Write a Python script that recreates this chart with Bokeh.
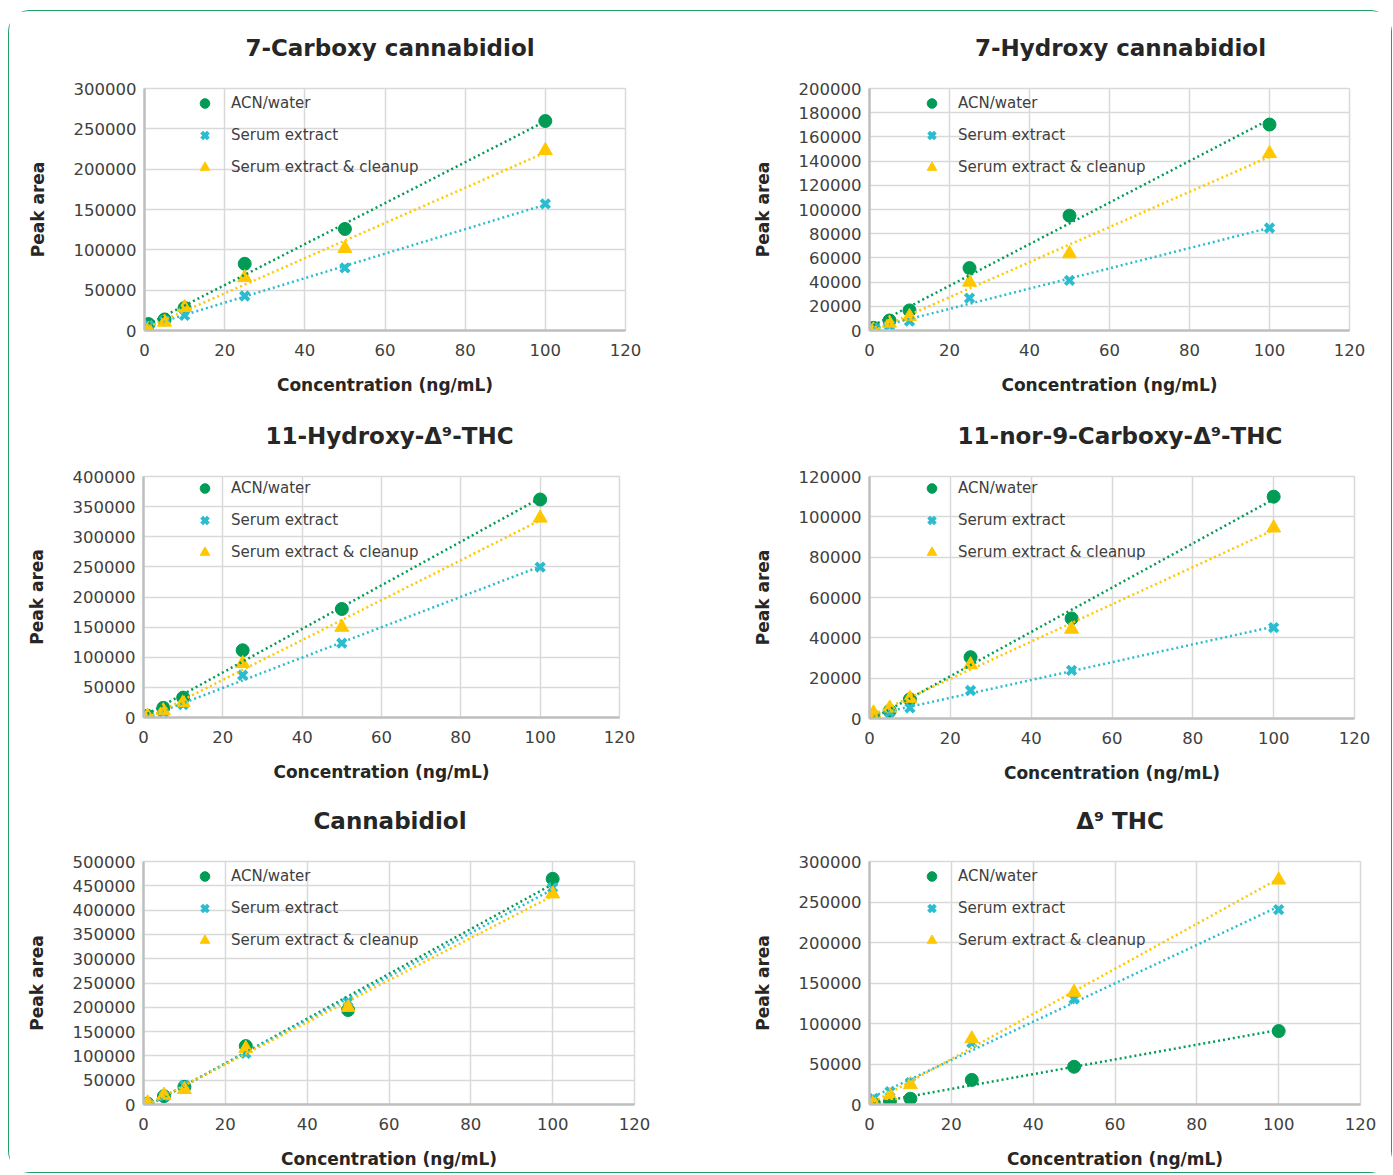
import numpy as np
from bokeh.plotting import figure
from bokeh.layouts import column, row
from bokeh.models import (Range1d, FixedTicker, NumeralTickFormatter, Legend,
                          LegendItem, Title)
from bokeh.embed import file_html
from bokeh.resources import INLINE

# ---------------- data ----------------
conc = [1, 5, 10, 25, 50, 100]
series_names = ["ACN/water", "Serum extract", "Serum extract & cleanup"]
x_ticks = [0, 20, 40, 60, 80, 100, 120]

titles = ["7-Carboxy cannabidiol", "7-Hydroxy cannabidiol",
          "11-Hydroxy-\u0394\u2079-THC", "11-nor-9-Carboxy-\u0394\u2079-THC",
          "Cannabidiol", "\u0394\u2079 THC"]
y_max = [300000, 200000, 400000, 120000, 500000, 300000]
y_step = [50000, 20000, 50000, 20000, 50000, 50000]

cooh_cbd_acn = [8000, 13700, 28000, 82700, 125900, 259700]
cooh_cbd_serum = [6200, 12500, 18700, 42800, 77700, 157000]
cooh_cbd_clean = [1500, 10400, 28500, 65600, 101800, 223000]

oh_cbd_acn = [2200, 8300, 16600, 51600, 94900, 170200]
oh_cbd_serum = [2000, 4100, 7700, 26800, 41400, 84700]
oh_cbd_clean = [500, 6100, 11600, 40000, 63400, 146200]

oh_thc_acn = [2800, 16000, 33000, 111600, 180100, 361800]
oh_thc_serum = [500, 8400, 21300, 70100, 123400, 249600]
oh_thc_clean = [2500, 11500, 25000, 89800, 149800, 331000]

cooh_thc_acn = [500, 3800, 9500, 30400, 49600, 110000]
cooh_thc_serum = [1700, 3000, 5300, 13900, 23900, 45100]
cooh_thc_clean = [2800, 5200, 10000, 26700, 44300, 94500]

cbd_acn = [2000, 17200, 36400, 120200, 194400, 464300]
cbd_serum = [2000, 17200, 39800, 105100, 211500, 446400]
cbd_clean = [3400, 19200, 30900, 115400, 199900, 433400]

thc_acn = [1200, 4000, 7200, 30400, 46600, 90700]
thc_serum = [7500, 15800, 27000, 76100, 130200, 240500]
thc_clean = [2500, 11000, 24500, 81100, 138600, 277100]

panel_data = [
    (cooh_cbd_acn, cooh_cbd_serum, cooh_cbd_clean),
    (oh_cbd_acn, oh_cbd_serum, oh_cbd_clean),
    (oh_thc_acn, oh_thc_serum, oh_thc_clean),
    (cooh_thc_acn, cooh_thc_serum, cooh_thc_clean),
    (cbd_acn, cbd_serum, cbd_clean),
    (thc_acn, thc_serum, thc_clean),
]

# ---------------- styling / geometry ----------------
GREEN = "#009B55"
CYAN = "#2BBDCF"
YELLOW = "#FFC700"
BORDER = "#1E9E62"
FONT = "DejaVu Sans"

# left, frame_w, right, top, frame_h, bottom, legend_left, legend_top, title_shift
geoms = [
    (135, 481, 75, 77, 242, 68, 48, 3, 5),
    (169, 480, 42, 77, 242, 68, 50, 3, 11),
    (134, 476, 81, 78, 241, 68, 49, 0, 8),
    (169, 485, 37, 78, 242, 67, 50, 0, 8),
    (134, 491, 66, 76, 243, 68, 49, 3, 1),
    (169, 491, 31, 76, 243, 68, 50, 3, 5),
]


def make_panel(i):
    left, fw, right, top, fh, bottom, lx, ltop, tshift = geoms[i]
    acn, serum, clean = panel_data[i]
    p = figure(frame_width=fw, frame_height=fh,
               min_border_left=left, min_border_right=right,
               min_border_top=top, min_border_bottom=bottom,
               x_range=Range1d(0, 120), y_range=Range1d(0, y_max[i]),
               output_backend="svg", toolbar_location=None, tools="",
               title=None)

    p.add_layout(Title(text=titles[i], align="center",
                       text_font=FONT, text_font_size="23px",
                       text_font_style="bold", text_color="#262626",
                       padding=dict(left=2 * tshift, right=0, top=0, bottom=23)),
                 "above")

    p.xaxis.ticker = FixedTicker(ticks=x_ticks)
    p.yaxis.ticker = FixedTicker(ticks=list(range(0, y_max[i] + 1, y_step[i])))
    p.yaxis.formatter = NumeralTickFormatter(format="0")
    p.xaxis.formatter = NumeralTickFormatter(format="0")
    p.xaxis.axis_label = "Concentration (ng/mL)"
    p.yaxis.axis_label = "Peak area"
    for ax in (p.xaxis[0], p.yaxis[0]):
        ax.axis_label_text_font = FONT
        ax.axis_label_text_font_size = "17px"
        ax.axis_label_text_font_style = "bold"
        ax.axis_label_text_color = "#262626"
        ax.major_label_text_font = FONT
        ax.major_label_text_font_size = "16.5px"
        ax.major_label_text_color = "#404040"
        ax.major_tick_line_color = None
        ax.minor_tick_line_color = None
        ax.major_tick_out = 0
        ax.major_tick_in = 0
        ax.axis_line_color = "#BFBFBF"
        ax.axis_line_width = 2.5
    p.xaxis.major_label_standoff = 13
    p.xaxis.axis_label_standoff = 16
    p.yaxis.major_label_standoff = 8
    p.yaxis.axis_label_standoff = 23

    p.grid.grid_line_color = "#D9D9D9"
    p.grid.grid_line_width = 1.5
    p.outline_line_color = "#D9D9D9"
    p.outline_line_width = 1.5
    p.background_fill_color = "white"
    p.border_fill_color = "white"

    r1 = p.scatter(conc, acn, marker="circle", size=13,
                   fill_color=GREEN, line_color=GREEN)
    r2 = p.scatter(conc, serum, marker="x", size=12,
                   line_color=CYAN, line_width=4)
    r3 = p.scatter(conc, clean, marker="triangle", size=14,
                   fill_color=YELLOW, line_color=YELLOW)

    for ys, c in ((acn, GREEN), (serum, CYAN), (clean, YELLOW)):
        m, b = np.polyfit(conc, ys, 1)
        xs = [min(conc), max(conc)]
        p.line(xs, [m * x + b for x in xs], line_color=c,
               line_width=2.5, line_dash="2 3")

    legend = Legend(
        items=[LegendItem(label=n, renderers=[r])
               for n, r in zip(series_names, (r1, r2, r3))],
        location=(lx, fh - ltop - 88),
        orientation="vertical",
        glyph_width=25, glyph_height=24, label_height=24,
        spacing=8, padding=0, margin=0, label_standoff=14,
        border_line_color=None, background_fill_alpha=0,
        label_text_font=FONT, label_text_font_size="15px",
        label_text_color="#404040")
    p.add_layout(legend)
    return p


panels = [make_panel(i) for i in range(6)]

layout = column(
    row(panels[0], panels[1]),
    row(panels[2], panels[3]),
    row(panels[4], panels[5]),
    styles={"border": "1.5px solid " + BORDER, "border-radius": "22px",
            "margin-top": "10px", "margin-left": "8px",
            "background-color": "white"},
)

open("out.html", "w").write(file_html(layout, INLINE))
